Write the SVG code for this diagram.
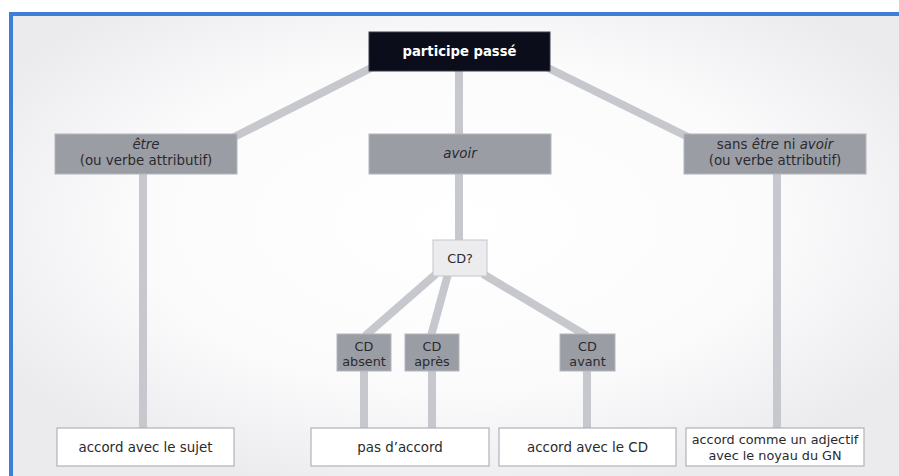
<svg xmlns="http://www.w3.org/2000/svg" width="899" height="476" viewBox="0 0 899 476">
<defs>
<radialGradient id="bg" cx="0.5" cy="0.45" r="0.6">
<stop offset="0" stop-color="#ffffff"/>
<stop offset="0.6" stop-color="#fbfbfc"/>
<stop offset="1" stop-color="#ebebee"/>
</radialGradient>
<style>
text{font-family:"DejaVu Sans","Liberation Sans",sans-serif;font-size:13.4px;fill:#2a2a2e;text-anchor:middle}
.s{font-size:12.8px}
.gray{fill:#9b9da5;stroke:#b4b6bc;stroke-width:1}
.white{fill:#ffffff;stroke:#b0b2b8;stroke-width:1.2}
.light{fill:#ececef;stroke:#c4c6cb;stroke-width:1}
.top{fill:#0b0d1a;stroke:#3a3c48;stroke-width:1}
.c{stroke:#c6c8ce;stroke-width:8;fill:none}
.t{fill:#ffffff;font-weight:bold;font-size:13.2px}
</style>
</defs>
<rect x="0" y="0" width="899" height="476" fill="#ffffff"/>
<rect x="11" y="14" width="890" height="464" fill="url(#bg)"/>
<path d="M11 478 V14 H901" stroke="#3d7fd6" stroke-width="4" fill="none"/>
<g id="connectors">
<line class="c" x1="375" y1="66" x2="232" y2="138"/>
<line class="c" x1="544" y1="66" x2="690" y2="138"/>
<line class="c" x1="459" y1="71" x2="459" y2="134"/>
<line class="c" x1="143" y1="174" x2="143" y2="428"/>
<line class="c" x1="459" y1="174" x2="459" y2="240"/>
<line class="c" x1="777" y1="174" x2="777" y2="428"/>
<line class="c" x1="436" y1="274" x2="365" y2="336"/>
<line class="c" x1="448" y1="274" x2="431" y2="336"/>
<line class="c" x1="483" y1="274" x2="587" y2="336"/>
<line class="c" x1="364" y1="371" x2="364" y2="428"/>
<line class="c" x1="432" y1="371" x2="432" y2="428"/>
<line class="c" x1="587" y1="371" x2="587" y2="428"/>
</g>
<g id="participe">
<rect class="top" x="369" y="32" width="181" height="39"/>
<text class="t" x="459.5" y="56">participe passé</text>
</g>
<g id="etre">
<rect class="gray" x="55" y="134" width="182" height="40"/>
<text x="146" y="149"><tspan font-style="italic">être</tspan></text>
<text x="146" y="165">(ou verbe attributif)</text>
</g>
<g id="avoir">
<rect class="gray" x="369" y="134" width="182" height="40"/>
<text x="460" y="158" font-style="italic">avoir</text>
</g>
<g id="sans">
<rect class="gray" x="684" y="134" width="182" height="40"/>
<text x="775" y="149">sans <tspan font-style="italic">être</tspan> ni <tspan font-style="italic">avoir</tspan></text>
<text x="775" y="165">(ou verbe attributif)</text>
</g>
<g id="cd">
<rect class="light" x="433" y="240" width="54" height="36"/>
<text class="s" x="460" y="263">CD?</text>
</g>
<g id="cd-absent">
<rect class="gray" x="337" y="334" width="54" height="37"/>
<text class="s" x="364" y="351">CD</text>
<text class="s" x="364" y="366">absent</text>
</g>
<g id="cd-apres">
<rect class="gray" x="405" y="334" width="54" height="37"/>
<text class="s" x="432" y="351">CD</text>
<text class="s" x="432" y="366">après</text>
</g>
<g id="cd-avant">
<rect class="gray" x="560" y="334" width="55" height="37"/>
<text class="s" x="587.5" y="351">CD</text>
<text class="s" x="587.5" y="366">avant</text>
</g>
<g id="sujet">
<rect class="white" x="57" y="428" width="177" height="38"/>
<text x="145.5" y="452">accord avec le sujet</text>
</g>
<g id="pas-accord">
<rect class="white" x="311" y="428" width="178" height="38"/>
<text x="400" y="452">pas d’accord</text>
</g>
<g id="accord-cd">
<rect class="white" x="499" y="428" width="177" height="38"/>
<text x="587.5" y="452">accord avec le CD</text>
</g>
<g id="adjectif">
<rect class="white" x="686" y="428" width="178" height="38"/>
<text class="s" x="775" y="444">accord comme un adjectif</text>
<text class="s" x="775" y="460">avec le noyau du GN</text>
</g>
</svg>
